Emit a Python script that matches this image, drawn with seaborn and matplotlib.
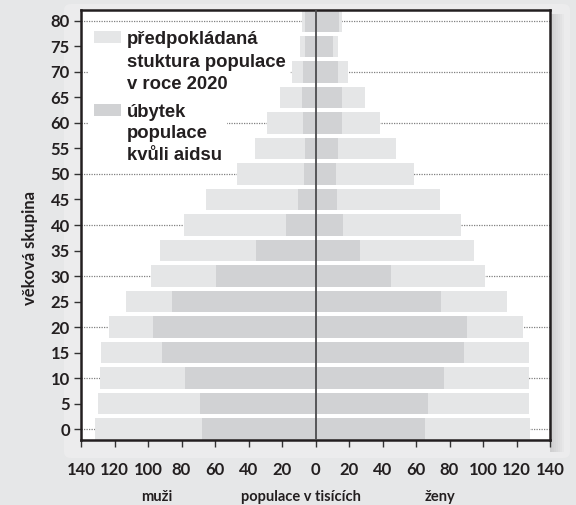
import numpy as np
import pandas as pd
import matplotlib
matplotlib.use("Agg")
import matplotlib.pyplot as plt
import seaborn as sns
from matplotlib.patches import Patch, FancyBboxPatch, Rectangle

# ---------------- data ----------------
ages = [0, 5, 10, 15, 20, 25, 30, 35, 40, 45, 50, 55, 60, 65, 70, 75, 80]
men_total = [131.5, 129.8, 128.6, 128.0, 123.2, 113.0, 98.2, 92.9, 78.6, 65.5, 47.0, 36.3, 29.2, 21.4, 14.3, 9.5, 8.3]
men_aids = [67.9, 69.0, 78.0, 91.7, 97.0, 85.7, 59.5, 35.7, 17.9, 10.7, 7.1, 6.5, 7.7, 8.3, 7.7, 6.0, 6.0]
women_total = [128.0, 127.4, 127.4, 127.4, 123.8, 114.3, 101.2, 94.6, 86.9, 74.4, 58.9, 48.2, 38.7, 29.8, 19.6, 13.7, 16.1]
women_aids = [65.5, 67.3, 76.8, 88.7, 90.5, 75.0, 45.2, 26.8, 16.7, 13.1, 12.5, 13.7, 16.1, 16.1, 13.7, 10.7, 14.3]
x_ticks = [-140, -120, -100, -80, -60, -40, -20, 0, 20, 40, 60, 80, 100, 120, 140]

legend_total = "předpokládaná\nstuktura populace\nv roce 2020"
legend_aids = "úbytek\npopulace\nkvůli aidsu"

# ---------------- style ----------------
BG = "#e6e7e8"
LIGHT = "#e5e6e7"
DARK = "#d1d2d4"
TXT = "#231f20"

sns.set_theme(style="white")
plt.rcParams["font.family"] = ["Lato", "DejaVu Sans"]

W, H = 576, 505
fig = plt.figure(figsize=(W / 100, H / 100), dpi=100, facecolor=BG)

def fx(px):
    return px / W

def fy(py):
    return 1 - py / H

# decorative glow + shadow behind the plot box
fig.patches.append(FancyBboxPatch((fx(64), fy(458)), fx(570) - fx(64), fy(4) - fy(458),
                                  boxstyle="round,pad=0,rounding_size=0.012",
                                  transform=fig.transFigure, facecolor="#ececed",
                                  edgecolor="none", zorder=-2))
for i in range(7):
    w = 14 - 2 * i
    fig.patches.append(Rectangle((fx(550), fy(452)), fx(w), fy(14) - fy(452),
                                 transform=fig.transFigure, facecolor="#a0a0a2",
                                 alpha=0.06, edgecolor="none", zorder=-1))

ax = fig.add_axes([fx(81), fy(440), fx(550) - fx(81), fy(10) - fy(440)])
ax.set_facecolor("white")

df = pd.DataFrame({
    "age": [str(a) for a in ages],
    "men_total": [-v for v in men_total],
    "men_aids": [-v for v in men_aids],
    "women_total": women_total,
    "women_aids": women_aids,
})
order = [str(a) for a in ages[::-1]]

# gridlines every 10 years
for i, a in enumerate(ages[::-1]):
    if a % 10 == 0:
        ax.axhline(i, color="#808080", lw=0.9, ls=(0, (1, 1)), zorder=0)

common = dict(y="age", order=order, orient="h", width=0.83, saturation=1,
              errorbar=None, ax=ax, linewidth=0, zorder=2)
sns.barplot(data=df, x="men_total", color=LIGHT, **common)
sns.barplot(data=df, x="women_total", color=LIGHT, **common)
sns.barplot(data=df, x="men_aids", color=DARK, **common)
sns.barplot(data=df, x="women_aids", color=DARK, **common)

ax.axvline(0, color="#4d4d4f", lw=1.3, zorder=4)

ax.set_xlim(-140, 140)
ax.set_ylim(len(ages) - 1 + 0.43, -0.43)
ax.set_xticks(x_ticks)
ax.set_xticklabels([str(abs(t)) for t in x_ticks])
ax.set_xlabel("")
ax.set_ylabel("věková skupina", fontsize=12, fontweight="bold", color=TXT)
ax.yaxis.set_label_coords(-0.092, 0.4465)

for s in ax.spines.values():
    s.set_visible(True)
    s.set_color("#231f20")
    s.set_linewidth(1.8)

ax.tick_params(axis="x", direction="out", length=5, width=1, color="#333333",
               pad=11, labelsize=12, labelcolor=TXT, bottom=True)
ax.tick_params(axis="y", direction="out", length=5, width=1, color="#333333",
               pad=3, labelsize=12, labelcolor=TXT, left=True)
for lab in ax.get_xticklabels() + ax.get_yticklabels():
    lab.set_fontweight("bold")

# legends (two separate white boxes)
leg_font = {"family": ["Liberation Sans", "DejaVu Sans"], "weight": "bold", "size": 13.3}

def make_legend(color, label, y_anchor, ls):
    leg = ax.legend(handles=[Patch(facecolor=color, edgecolor="none", label=label)],
                    loc="upper left", bbox_to_anchor=(0.018, y_anchor),
                    bbox_transform=ax.transAxes, borderaxespad=0, borderpad=0.25,
                    handlelength=1.47, handleheight=0.64, handletextpad=0.32,
                    frameon=True, fancybox=False, framealpha=1, prop=leg_font)
    leg.get_frame().set_facecolor("white")
    leg.get_frame().set_edgecolor("none")
    leg.set_zorder(1.5)
    for t in leg.get_texts():
        t.set_linespacing(ls)
        t.set_color(TXT)
    for col in leg._legend_handle_box.get_children():
        for hp in col.get_children():
            hp.align = "top"
    return leg

leg1 = make_legend(LIGHT, legend_total, 0.9616, 1.43)
ax.add_artist(leg1)
leg2 = make_legend(DARK, legend_aids, 0.793, 1.36)

# bottom labels
for txt, px in [("muži", 157), ("populace v tisících", 301), ("ženy", 440)]:
    fig.text(fx(px), fy(501), txt, ha="center", va="baseline", fontsize=10.5,
             fontweight="bold", color=TXT)

fig.savefig("out.png", dpi=100, facecolor=BG)
